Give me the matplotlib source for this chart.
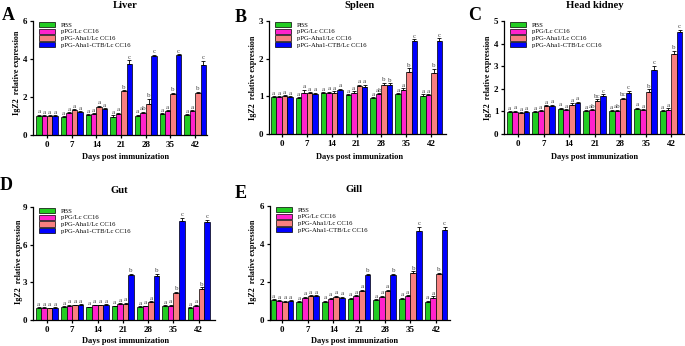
import numpy as np
import matplotlib.pyplot as plt

plt.rcParams['font.family'] = ['Liberation Serif', 'DejaVu Serif']

days = ['0', '7', '14', '21', '28', '35', '42']
groups = ['PBS', 'pPG/Lc CC16', 'pPG-Aha1/Lc CC16', 'pPG-Aha1-CTB/Lc CC16']
colors = ['#22cc22', '#ff22cc', '#f88080', '#0000ff']

# rows: PBS, pPG/Lc CC16, pPG-Aha1/Lc CC16, pPG-Aha1-CTB/Lc CC16
liver_mean = [[1.00, 0.95, 1.05, 0.95, 1.00, 1.10, 1.05],
              [1.00, 1.15, 1.10, 1.10, 1.15, 1.25, 1.25],
              [1.00, 1.30, 1.45, 2.30, 1.65, 2.15, 2.20],
              [1.00, 1.20, 1.35, 3.75, 4.15, 4.20, 3.70]]
liver_err = [[0.05, 0.04, 0.05, 0.08, 0.05, 0.05, 0.05],
             [0.04, 0.05, 0.05, 0.06, 0.06, 0.06, 0.06],
             [0.04, 0.06, 0.08, 0.06, 0.25, 0.06, 0.08],
             [0.04, 0.05, 0.06, 0.18, 0.06, 0.05, 0.22]]
liver_sig = [['a', 'a', 'a', 'a', 'a', 'a', 'a'],
             ['a', 'a', 'a', 'a', 'ab', 'a', 'a'],
             ['a', 'a', 'a', 'b', 'b', 'b', 'b'],
             ['a', 'a', 'a', 'c', 'c', 'c', 'c']]

spleen_mean = [[0.98, 0.96, 1.08, 1.03, 0.95, 1.05, 1.02],
               [0.98, 1.10, 1.09, 1.10, 1.05, 1.17, 1.03],
               [1.00, 1.08, 1.10, 1.27, 1.30, 1.65, 1.63],
               [0.98, 1.07, 1.17, 1.25, 1.30, 2.48, 2.46]]
spleen_err = [[0.02, 0.02, 0.03, 0.03, 0.02, 0.03, 0.03],
              [0.02, 0.07, 0.03, 0.03, 0.03, 0.04, 0.03],
              [0.03, 0.03, 0.03, 0.04, 0.06, 0.10, 0.10],
              [0.02, 0.03, 0.03, 0.05, 0.05, 0.04, 0.08]]
spleen_sig = [['a', 'a', 'a', 'a', 'a', 'a', 'a'],
              ['a', 'a', 'a', 'a', 'ab', 'a', 'a'],
              ['a', 'a', 'a', 'a', 'b', 'b', 'b'],
              ['a', 'a', 'a', 'a', 'b', 'c', 'c']]

kidney_mean = [[0.97, 0.97, 1.10, 1.00, 1.00, 1.10, 1.00],
               [0.98, 1.00, 1.05, 1.05, 1.02, 1.05, 1.08],
               [0.92, 1.22, 1.30, 1.45, 1.53, 1.87, 3.55],
               [0.97, 1.25, 1.37, 1.70, 1.80, 2.85, 4.50]]
kidney_err = [[0.04, 0.04, 0.05, 0.04, 0.04, 0.05, 0.05],
              [0.04, 0.04, 0.05, 0.05, 0.06, 0.05, 0.06],
              [0.04, 0.06, 0.06, 0.08, 0.08, 0.10, 0.12],
              [0.04, 0.05, 0.06, 0.05, 0.10, 0.18, 0.10]]
kidney_sig = [['a', 'a', 'a', 'a', 'a', 'a', 'a'],
              ['a', 'a', 'a', 'ab', 'ab', 'a', 'a'],
              ['a', 'a', 'a', 'bc', 'bc', 'b', 'b'],
              ['a', 'a', 'a', 'c', 'c', 'c', 'c']]

gut_mean = [[0.95, 1.05, 1.00, 1.08, 1.03, 1.10, 0.97],
            [0.97, 1.13, 1.17, 1.27, 1.08, 1.13, 1.15],
            [0.93, 1.17, 1.17, 1.30, 1.42, 2.15, 2.50],
            [0.95, 1.20, 1.20, 3.55, 3.52, 7.85, 7.80]]
gut_err = [[0.05, 0.05, 0.05, 0.06, 0.05, 0.06, 0.05],
           [0.05, 0.06, 0.06, 0.06, 0.06, 0.06, 0.06],
           [0.05, 0.06, 0.06, 0.06, 0.08, 0.10, 0.12],
           [0.05, 0.06, 0.06, 0.12, 0.15, 0.30, 0.20]]
gut_sig = [['a', 'a', 'a', 'a', 'a', 'a', 'a'],
           ['a', 'a', 'a', 'a', 'a', 'a', 'a'],
           ['a', 'a', 'a', 'a', 'a', 'b', 'b'],
           ['a', 'a', 'a', 'b', 'b', 'c', 'c']]

gill_mean = [[1.03, 0.93, 0.97, 1.10, 1.03, 1.10, 0.97],
             [0.98, 1.17, 1.10, 1.25, 1.22, 1.25, 1.18],
             [0.97, 1.25, 1.20, 1.52, 1.52, 2.47, 2.40],
             [0.98, 1.25, 1.17, 2.37, 2.37, 4.70, 4.72]]
gill_err = [[0.05, 0.05, 0.05, 0.06, 0.05, 0.06, 0.05],
            [0.05, 0.06, 0.06, 0.06, 0.06, 0.06, 0.06],
            [0.05, 0.06, 0.06, 0.08, 0.08, 0.10, 0.10],
            [0.05, 0.06, 0.06, 0.06, 0.06, 0.20, 0.20]]
gill_sig = [['a', 'a', 'a', 'a', 'a', 'a', 'a'],
            ['a', 'a', 'a', 'a', 'a', 'a', 'a'],
            ['a', 'a', 'a', 'a', 'a', 'b', 'b'],
            ['a', 'a', 'a', 'b', 'b', 'c', 'c']]

W, H = 685, 346
fig = plt.figure(figsize=(W / 100, H / 100), dpi=100)


def px_axes(l, t, r, b):
    return fig.add_axes([l / W, 1 - b / H, (r - l) / W, (b - t) / H])


def ftext(x, y, s, **kw):
    fig.text(x / W, 1 - y / H, s, **kw)


def draw(ax, mean, err, sig, ymax, ystep, xlim):
    x = np.arange(len(days))
    bw = 0.22
    for i in range(4):
        xs = x + (i - 1.5) * bw
        m = np.array(mean[i])
        e = np.array(err[i])
        ax.bar(xs, m, width=bw, color=colors[i], edgecolor='black',
               linewidth=0.5, label=groups[i], zorder=2)
        ax.errorbar(xs, m, yerr=[np.zeros_like(e), e], fmt='none',
                    ecolor='black', elinewidth=0.6, capsize=1.2,
                    capthick=0.6, zorder=3)
        for xi, mi, ei, s in zip(xs, m, e, sig[i]):
            ax.text(xi, mi + ei + ymax * 0.005, s, ha='center', va='bottom',
                    fontsize=5, color='#444444')
    ax.set_xlim(*xlim)
    ax.set_ylim(0, ymax)
    ax.set_yticks(np.arange(0, ymax + 0.01, ystep))
    ax.set_xticks(x)
    ax.set_xticklabels(days)
    for sp in ['top', 'right']:
        ax.spines[sp].set_visible(False)
    for sp in ['left', 'bottom']:
        ax.spines[sp].set_linewidth(0.9)
    ax.tick_params(length=2.5, width=0.9, labelsize=6.5, pad=1.5)
    for lb in ax.get_xticklabels() + ax.get_yticklabels():
        lb.set_fontweight('bold')
    ax.legend(loc='upper left', bbox_to_anchor=(0.03, 1.0), frameon=False,
              fontsize=4.8, labelspacing=0.15, handlelength=2.4,
              handleheight=0.8, handletextpad=0.9, borderpad=0.1,
              borderaxespad=0.0)


panels = [
    (liver_mean, liver_err, liver_sig, 6, 2, (33, 21, 207, 135), (-0.57, 6.48),
     'Liver', 125, 8.5, 'A', 2, 20, 17, 73, 126, 159),
    (spleen_mean, spleen_err, spleen_sig, 3, 1, (269, 21, 446, 134), (-0.52, 6.6),
     'Spleen', 360, 8.5, 'B', 235, 22, 253, 78, 360, 159),
    (kidney_mean, kidney_err, kidney_sig, 5, 1, (504, 21, 684, 134), (-0.55, 6.5),
     'Head kidney', 595, 8.5, 'C', 468, 20, 488, 78, 595, 159),
    (gut_mean, gut_err, gut_sig, 9, 3, (33, 207, 215, 320), (-0.55, 6.64),
     'Gut', 119, 193, 'D', 0, 190, 19, 262, 126, 343),
    (gill_mean, gill_err, gill_sig, 6, 2, (270, 206, 450, 320), (-0.47, 6.54),
     'Gill', 354, 192, 'E', 235, 198, 253, 262, 355, 343),
]

for (mean, err, sig, ymax, ystep, rect, xlim, title, tx, ty, letter, lx, ly,
     yx, yy, xx, xy) in panels:
    ax = px_axes(*rect)
    draw(ax, mean, err, sig, ymax, ystep, xlim)
    ftext(tx, ty, title, ha='center', va='baseline', fontsize=7.7,
          fontweight='bold')
    ftext(lx, ly, letter, ha='left', va='baseline', fontsize=13,
          fontweight='bold')
    ftext(yx, yy, 'IgZ2  relative expression', ha='center', va='center',
          rotation=90, fontsize=5.8, fontweight='bold')
    ftext(xx, xy, 'Days post immunization', ha='center', va='baseline',
          fontsize=6, fontweight='bold')

fig.savefig('out.png', dpi=100)
